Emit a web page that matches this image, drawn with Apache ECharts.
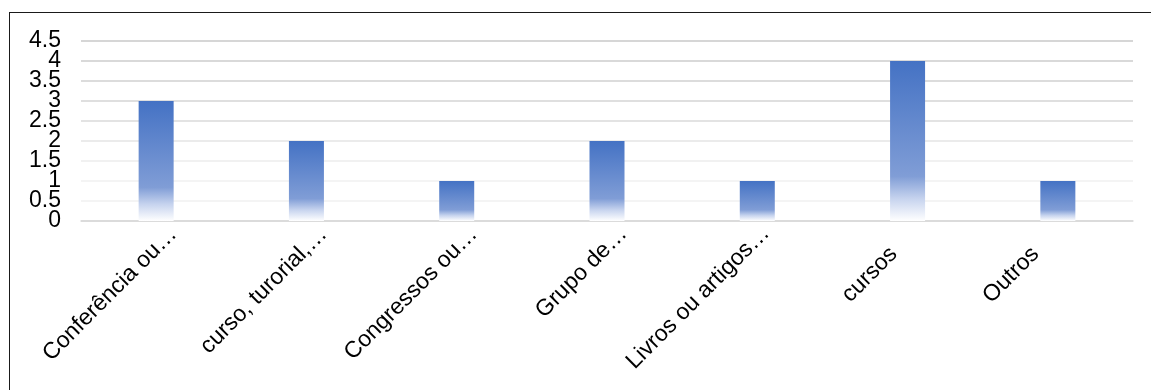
<!DOCTYPE html>
<html>
<head>
<meta charset="utf-8">
<script src="https://cdn.jsdelivr.net/npm/echarts@6/dist/echarts.min.js"></script>
<style>
  html, body { margin: 0; padding: 0; background: #ffffff; }
  #chart { position: absolute; left: 0; top: 0; width: 1151px; height: 390px; }
  #frame {
    position: absolute; left: 9px; top: 12px; width: 1200px; height: 500px;
    border-left: 1px solid #1a1a1a; border-top: 1px solid #1a1a1a;
    pointer-events: none;
  }
</style>
</head>
<body>
<div id="chart"></div>
<div id="frame"></div>
<script>
// Category names and counts
const categories = [
  'Conferência ou…',
  'curso, turorial,…',
  'Congressos ou…',
  'Grupo de…',
  'Livros ou artigos…',
  'cursos',
  'Outros'
];
const counts = [3, 2, 1, 2, 1, 4, 1];

// Value axis range
const yMin = 0;
const yMax = 4.5;
const yStep = 0.5;

// Where each rotated label's baseline should end: [dx from tick centre, dy below axis]
const labelEnd = [
  [22.5, 15], [22.5, 15], [22.5, 15], [22, 14.5],
  [14, 14], [-8.5, 35], [-17, 35]
];

const FS = 23;
const MARGIN = -8;
const K = Math.SQRT1_2;
const BASE = 0.33 * FS; // line middle to baseline

// A 45° right-aligned label is pushed down-right by a top-aligned line box
// (height L) and pulled back along its own direction by a right padding p.
const axisData = categories.map((name, i) => {
  const [dx, dy] = labelEnd[i];
  const sx = dx;
  const sy = dy - MARGIN;
  const across = (sx + sy) * K;
  const p = Math.max((sy - sx) * K, 0);
  const L = Math.max(2 * (across - BASE), 1);
  return {
    value: name,
    textStyle: {
      verticalAlign: 'top',
      lineHeight: L,
      padding: [0, p, 0, 0]
    }
  };
});

const fontFamily = '"Liberation Sans", Arial, sans-serif';
const isWhole = (v) => Math.abs(v - Math.round(v)) < 1e-9;

// Shared y-axis settings; whole and half ticks are labelled by two
// overlaid axes so the tightly stacked labels are all kept.
function valueAxis(showWhole) {
  return {
    type: 'value',
    min: yMin,
    max: yMax,
    interval: yStep,
    position: 'left',
    axisLine: { show: false },
    axisTick: { show: false },
    axisLabel: {
      margin: 20,
      color: '#000000',
      fontFamily: fontFamily,
      fontSize: 23,
      showMinLabel: showWhole,
      showMaxLabel: !showWhole,
      hideOverlap: false,
      formatter: (v) => (isWhole(v) === showWhole ? String(v) : '')
    },
    splitLine: {
      show: showWhole,
      lineStyle: {
        width: 1.5,
        color: ['#d9d9d9', '#f0f0f0', '#f0f0f0', '#ececec', '#e4e4e4',
                '#dadada', '#d4d4d4', '#d0d0d0', '#cccccc', '#c8c8c8']
      }
    }
  };
}

const chart = echarts.init(document.getElementById('chart'), null, { renderer: 'canvas' });
chart.setOption({
  animation: false,
  backgroundColor: '#ffffff',
  grid: { left: 81, right: 18, top: 41, bottom: 169, containLabel: false, outerBoundsMode: 'none' },
  xAxis: {
    type: 'category',
    data: axisData,
    axisLine: { show: true, lineStyle: { color: '#d9d9d9', width: 1.5 } },
    axisTick: { show: false },
    axisLabel: {
      interval: 0,
      rotate: 45,
      margin: MARGIN,
      color: '#000000',
      fontFamily: fontFamily,
      fontSize: FS,
      hideOverlap: false
    },
    splitLine: { show: false }
  },
  yAxis: [valueAxis(true), valueAxis(false)],
  series: [{
    type: 'bar',
    yAxisIndex: 0,
    data: counts,
    barWidth: 35,
    itemStyle: {
      color: new echarts.graphic.LinearGradient(0, 0, 0, 1, [
        { offset: 0, color: '#4472c4' },
        { offset: 0.72, color: '#809dd6' },
        { offset: 0.86, color: '#c6d3ee' },
        { offset: 1, color: '#ffffff' }
      ])
    }
  }]
});
</script>
</body>
</html>
